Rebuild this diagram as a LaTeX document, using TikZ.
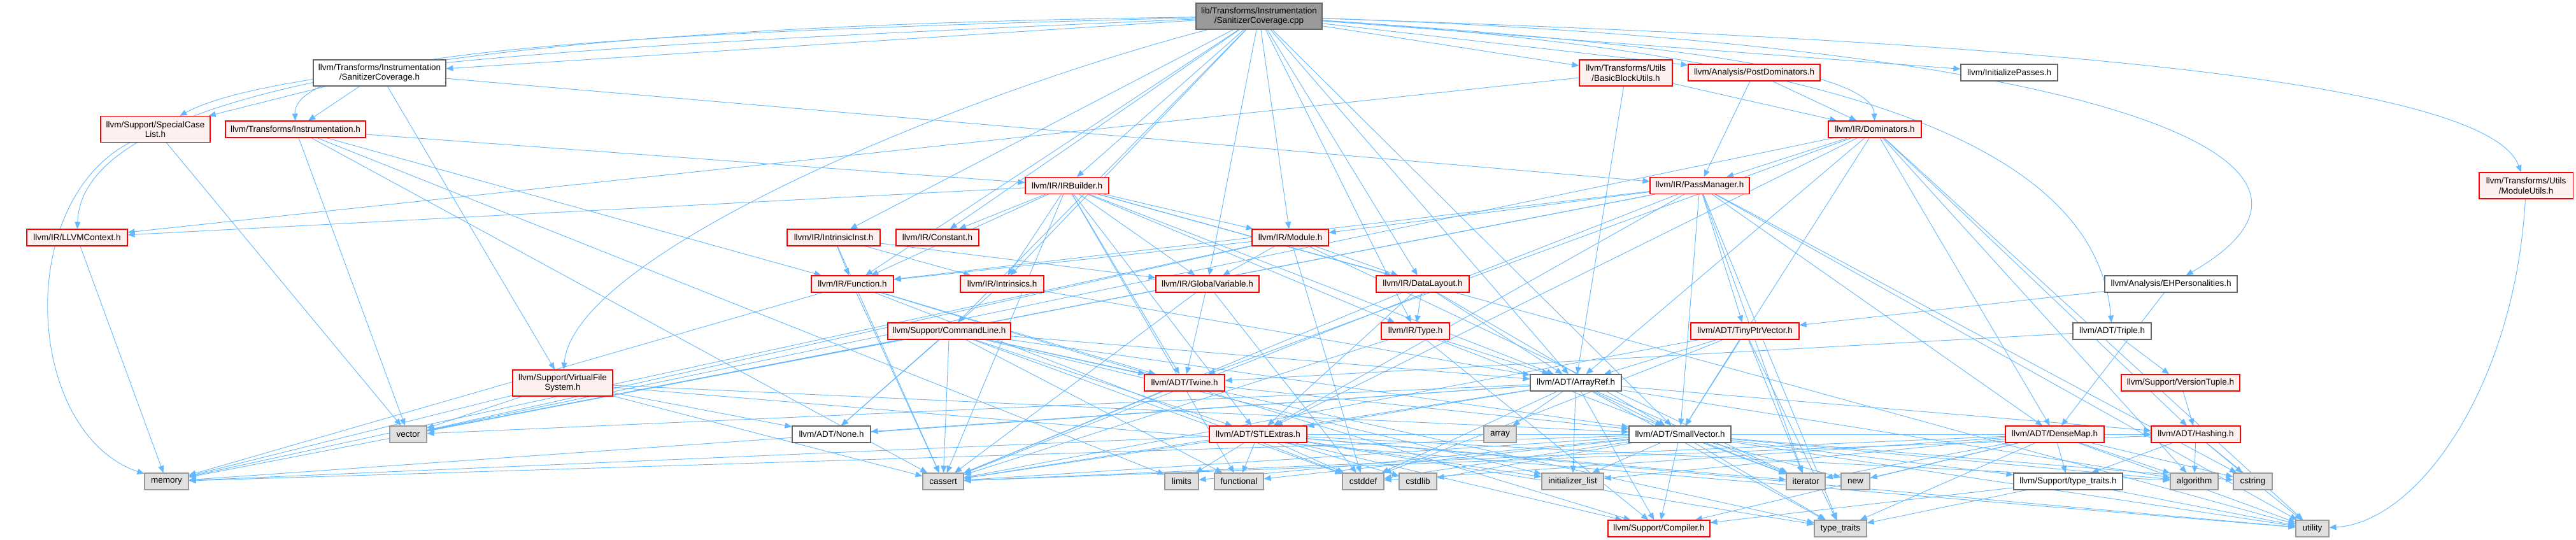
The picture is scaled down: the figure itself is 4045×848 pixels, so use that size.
\documentclass[tikz,border=0pt]{standalone}
\usepackage{fontspec}
\setmainfont{Liberation Sans}
\usetikzlibrary{arrows.meta}
\pgfdeclarelayer{bg}\pgfsetlayers{bg,main}
\definecolor{edgeblue}{HTML}{63B8FF}
\definecolor{redfill}{HTML}{FFF0F0}
\definecolor{grayfill}{HTML}{E0E0E0}
\definecolor{grayline}{HTML}{999999}
\definecolor{darkline}{HTML}{666666}
\definecolor{rootfill}{HTML}{999999}
\tikzset{
 nb/.style={rectangle, draw, line width=1.1pt, inner sep=0pt, align=center, font=\fontsize{13.5}{15.5}\selectfont, text=black},
 redbox/.style={nb, draw=red, fill=redfill},
 whitebox/.style={nb, draw=darkline, fill=white},
 graybox/.style={nb, draw=grayline, fill=grayfill},
 rootbox/.style={nb, draw=darkline, fill=rootfill},
 edge/.style={draw=edgeblue, line width=0.9pt, -{Triangle[length=11pt,width=9pt]}},
}
\newcommand\mknode[6]{\node[#1,minimum width=#4pt,minimum height=#5pt] (#2) at (#3) {#6};}
\begin{document}
\begin{tikzpicture}[x=1pt,y=-1pt]
\useasboundingbox (0,0) rectangle (4045,848);
% row 0
\mknode{rootbox}{root}{1977,25.5}{198}{41}{lib/Transforms/Instrumentation\\/SanitizerCoverage.cpp}
% row 1
\mknode{whitebox}{sch}{596,114.5}{208}{41}{llvm/Transforms/Instrumentation\\/SanitizerCoverage.h}
\mknode{redbox}{bbu}{2553,114.5}{146}{41}{llvm/Transforms/Utils\\/BasicBlockUtils.h}
\mknode{redbox}{pdom}{2754.5,114}{207}{26}{llvm/Analysis/PostDominators.h}
\mknode{whitebox}{initp}{3155,114}{152}{26}{llvm/InitializePasses.h}
\mknode{redbox}{modu}{3966.5,291.5}{147}{41}{llvm/Transforms/Utils\\/ModuleUtils.h}
% row 2
\mknode{redbox}{scl}{244,203}{172}{41}{llvm/Support/SpecialCase\\List.h}
\mknode{redbox}{instr}{464,203}{220}{26}{llvm/Transforms/Instrumentation.h}
\mknode{redbox}{dom}{2944,203}{146}{26}{llvm/IR/Dominators.h}
% row 3
\mknode{redbox}{irb}{1675.5,291.5}{131}{26}{llvm/IR/IRBuilder.h}
\mknode{redbox}{pm}{2669,291.5}{156}{26}{llvm/IR/PassManager.h}
% row 4
\mknode{redbox}{ctx}{121,373}{158}{26}{llvm/IR/LLVMContext.h}
\mknode{redbox}{iinst}{1309,373}{146}{26}{llvm/IR/IntrinsicInst.h}
\mknode{redbox}{const}{1472,373}{130}{26}{llvm/IR/Constant.h}
\mknode{redbox}{mod}{2026,373}{120}{26}{llvm/IR/Module.h}
% row 5
\mknode{redbox}{func}{1338.5,446}{129}{26}{llvm/IR/Function.h}
\mknode{redbox}{intr}{1573.5,446}{131}{26}{llvm/IR/Intrinsics.h}
\mknode{redbox}{gvar}{1896,446}{162}{26}{llvm/IR/GlobalVariable.h}
\mknode{redbox}{dl}{2234,446}{146}{26}{llvm/IR/DataLayout.h}
\mknode{whitebox}{ehp}{3409,446}{208}{26}{llvm/Analysis/EHPersonalities.h}
% row 6
\mknode{redbox}{cl}{1490.5,520}{193}{26}{llvm/Support/CommandLine.h}
\mknode{redbox}{type}{2222.5,520}{107}{26}{llvm/IR/Type.h}
\mknode{redbox}{tpv}{2740,520}{170}{26}{llvm/ADT/TinyPtrVector.h}
\mknode{whitebox}{trip}{3316.5,520}{123}{26}{llvm/ADT/Triple.h}
% row 7
\mknode{redbox}{vfs}{883.5,601.5}{157}{41}{llvm/Support/VirtualFile\\System.h}
\mknode{redbox}{twine}{1860,601}{126}{26}{llvm/ADT/Twine.h}
\mknode{whitebox}{aref}{2474.5,601}{143}{26}{llvm/ADT/ArrayRef.h}
\mknode{redbox}{vt}{3424,601}{186}{26}{llvm/Support/VersionTuple.h}
% row 8
\mknode{graybox}{vec}{641,682}{58}{26}{vector}
\mknode{whitebox}{none}{1305.5,682}{123}{26}{llvm/ADT/None.h}
\mknode{redbox}{stl}{1975.5,682}{153}{26}{llvm/ADT/STLExtras.h}
\mknode{graybox}{arr}{2355.5,682}{51}{26}{array}
\mknode{whitebox}{sv}{2638,682}{160}{26}{llvm/ADT/SmallVector.h}
\mknode{redbox}{dmap}{3226.5,682}{155}{26}{llvm/ADT/DenseMap.h}
\mknode{redbox}{hash}{3448,682}{140}{26}{llvm/ADT/Hashing.h}
% row 9
\mknode{graybox}{mem}{261.5,756}{69}{26}{memory}
\mknode{graybox}{cas}{1481,756}{64}{26}{cassert}
\mknode{graybox}{lim}{1855.5,756}{53}{26}{limits}
\mknode{graybox}{fun}{1945.5,756}{77}{26}{functional}
\mknode{graybox}{cdef}{2140.5,756}{65}{26}{cstddef}
\mknode{graybox}{clib}{2226.5,756}{59}{26}{cstdlib}
\mknode{graybox}{ilist}{2469.5,756}{97}{26}{initializer\_list}
\mknode{graybox}{iter}{2835.5,756}{61}{26}{iterator}
\mknode{graybox}{new}{2913.5,756}{45}{26}{new}
\mknode{whitebox}{tth}{3247.5,756}{171}{26}{llvm/Support/type\_traits.h}
\mknode{graybox}{algo}{3445.5,756}{75}{26}{algorithm}
\mknode{graybox}{cstr}{3537.5,756}{61}{26}{cstring}
% row 10
\mknode{redbox}{comp}{2605,830}{160}{26}{llvm/Support/Compiler.h}
\mknode{graybox}{tt}{2890,830}{82}{26}{type\_traits}
\mknode{graybox}{util}{3631,830}{52}{26}{utility}

\begin{pgfonlayer}{bg}
% root edges
\foreach \t in {sch,aref,sv,pdom,const,dl,func,gvar,irb,iinst,intr,mod,type,initp,cl,bbu}
  \draw[edge] (root) -- (\t);
\draw[edge] (root) .. controls (1200,60) and (450,90) .. (scl);
\draw[edge] (root) .. controls (900,40) and (130,110) .. (ctx);
\draw[edge] (root) .. controls (1000,50) and (460,80) .. (instr);
\draw[edge] (root) .. controls (1500,150) and (900,400) .. (vfs);
\draw[edge] (root) .. controls (3000,60) and (3900,110) .. (modu);
\draw[edge] (root) .. controls (3300,70) and (3750,250) .. (ehp);
\draw[edge] (root) .. controls (2800,80) and (3290,200) .. (trip);
\draw[edge] (root) .. controls (2500,60) and (2940,100) .. (dom);
% others
\foreach \t in {pm,scl,vfs,instr} \draw[edge] (sch) -- (\t);
\draw[edge] (scl) .. controls (20,320) and (40,680) .. (mem);
\draw[edge] (scl) -- (vec);
\foreach \t in {irb,func,cas,lim,vec} \draw[edge] (instr) -- (\t);
\draw[edge] (ctx) -- (mem);
\foreach \t in {aref,stl,twine,const,dl,func,gvar,intr,ctx,mod,type,cas,fun,util} \draw[edge] (irb) -- (\t);
\foreach \t in {dmap,stl,sv,tpv,func,mod,cas,cstr,iter,mem,tt,util,vec} \draw[edge] (pm) -- (\t);
\foreach \t in {aref,dmap,hash,stl,sv,twine,pm,algo,util,vec} \draw[edge] (dom) -- (\t);
\foreach \t in {dom,pm} \draw[edge] (pdom) -- (\t);
\foreach \t in {aref,dom,ctx} \draw[edge] (bbu) -- (\t);
\draw[edge] (modu) .. controls (3950,600) and (3800,820) .. (util);
\foreach \t in {tpv,dmap} \draw[edge] (ehp) -- (\t);
\foreach \t in {twine,vt} \draw[edge] (trip) -- (\t);
\draw[edge] (vt) -- (hash);
\foreach \t in {tth,algo,cstr,util,cas} \draw[edge] (hash) -- (\t);
\foreach \t in {comp,tth,algo,cas,cdef,cstr,ilist,iter,new,tt,util} \draw[edge] (dmap) -- (\t);
\foreach \t in {comp,tt,util} \draw[edge] (tth) -- (\t);
\foreach \t in {comp,tth,algo,cas,cdef,clib,cstr,fun,ilist,iter,lim,mem,new,tt,util} \draw[edge] (sv) -- (\t);
\foreach \t in {hash,none,stl,sv,comp,algo,arr,cas,cdef,ilist,iter,mem,tt,vec} \draw[edge] (aref) -- (\t);
\foreach \t in {hash,comp,algo,cas,cdef,clib,fun,ilist,iter,lim,mem,tt,util} \draw[edge] (stl) -- (\t);
\foreach \t in {sv,cas} \draw[edge] (twine) -- (\t);
\foreach \t in {aref,sv,cas,cdef,iter,tt} \draw[edge] (tpv) -- (\t);
\foreach \t in {aref,comp,cas,iter} \draw[edge] (type) -- (\t);
\foreach \t in {aref,stl,sv,type,cas} \draw[edge] (dl) -- (\t);
\foreach \t in {dl,func,gvar,cdef,iter,mem,vec} \draw[edge] (mod) -- (\t);
\foreach \t in {twine,comp,cas,cdef,mem} \draw[edge] (func) -- (\t);
\foreach \t in {aref,none} \draw[edge] (intr) -- (\t);
\foreach \t in {twine,cas,cdef} \draw[edge] (gvar) -- (\t);
\foreach \t in {func,gvar,intr,cas} \draw[edge] (iinst) -- (\t);
\foreach \t in {aref,none,stl,sv,twine,cas,cdef,fun,ilist,tt,vec} \draw[edge] (cl) -- (\t);
\foreach \t in {none,sv,cas,mem,util,vec} \draw[edge] (vfs) -- (\t);
\end{pgfonlayer}
\end{tikzpicture}
\end{document}
